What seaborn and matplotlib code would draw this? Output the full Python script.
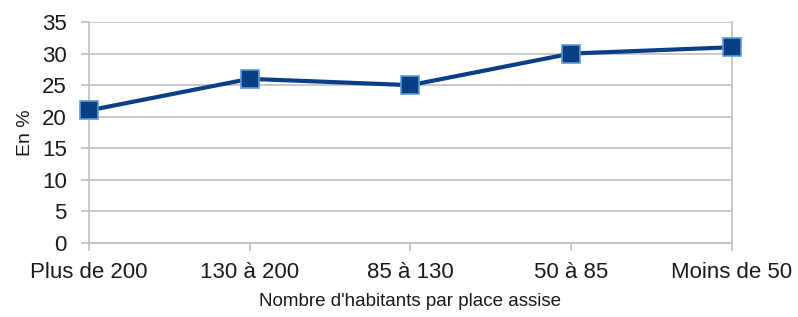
import pandas as pd
import matplotlib.pyplot as plt
import seaborn as sns

# Data
CATEGORIES = ['Plus de 200', '130 à 200', '85 à 130', '50 à 85', 'Moins de 50']
VALUES = [21, 26, 25, 30, 31]

LINE_COLOR = '#0a3f86'
GRID_COLOR = '#bfbfbf'

sns.set_style('white')
plt.rcParams['font.family'] = ['Liberation Sans', 'DejaVu Sans']

df = pd.DataFrame({'pos': range(len(CATEGORIES)), 'value': VALUES})

fig = plt.figure(figsize=(7.98, 3.17), dpi=100)
ax = fig.add_axes([0.1115, 0.2334, 0.8055, 0.6972])

sns.lineplot(data=df, x='pos', y='value', ax=ax, color=LINE_COLOR,
             linewidth=3, marker='s', markersize=13,
             markerfacecolor=LINE_COLOR, markeredgecolor='#5b9bd5',
             markeredgewidth=1.2, clip_on=False, zorder=5)

ax.set_xlim(0, len(CATEGORIES) - 1)
ax.set_ylim(0, 35)
ax.set_yticks(range(0, 36, 5))
ax.set_xticks(df['pos'])
ax.set_xticklabels(CATEGORIES)

ax.yaxis.grid(True, color=GRID_COLOR, linewidth=1.2)
ax.set_axisbelow(True)
for side in ['left', 'bottom', 'right']:
    ax.spines[side].set_visible(True)
    ax.spines[side].set_color(GRID_COLOR)
    ax.spines[side].set_linewidth(1.2)
ax.spines['top'].set_visible(False)

ax.tick_params(axis='both', which='both', direction='out', length=6,
               width=1.2, color=GRID_COLOR, labelsize=16, labelcolor='#1a1a1a',
               bottom=True, left=True)
ax.tick_params(axis='x', pad=8)
ax.tick_params(axis='y', pad=10)

ax.set_xlabel("Nombre d'habitants par place assise", fontsize=13.5,
              labelpad=7, color='#1a1a1a')
ax.set_ylabel('En %', fontsize=14, labelpad=6, color='#1a1a1a')

fig.savefig('out.png', dpi=100)
